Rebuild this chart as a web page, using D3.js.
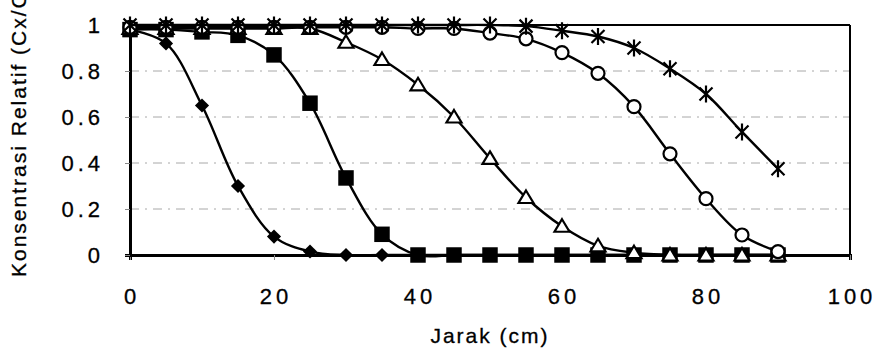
<!DOCTYPE html>
<meta charset="utf-8">
<style>
body { margin: 0; background: #fff; }
text { font-family: Arial, "Liberation Sans", sans-serif; fill: #000; stroke: #000; stroke-width: 0.3; }
.tick-label { font-size: 22px; letter-spacing: 4px; }
.axis-title { font-size: 21px; letter-spacing: 2px; }
.grid { stroke: #a8a8a8; stroke-width: 1; stroke-dasharray: 9,6,2,6; }
.series { fill: none; stroke: #000; stroke-width: 2.4; }
</style>
<body>
<script src="https://cdn.jsdelivr.net/npm/d3@7"></script>
<script>

// distance (cm) sampled every 5 cm
var jarak = [0, 5, 10, 15, 20, 25, 30, 35, 40, 45, 50, 55, 60, 65, 70, 75, 80, 85, 90];

// relative concentration Cx/Co, one array per curve
var belahKetupat = [0.98, 0.92, 0.65, 0.30, 0.08, 0.015, 0, 0, 0, 0, 0, 0, 0, 0, 0, 0, 0, 0, 0];
var kotak        = [0.98, 0.98, 0.97, 0.955, 0.87, 0.66, 0.335, 0.09, 0, 0, 0, 0, 0, 0, 0, 0, 0, 0, 0];
var segitiga     = [0.985, 0.985, 0.985, 0.985, 0.985, 0.985, 0.925, 0.85, 0.74, 0.60, 0.42, 0.25, 0.125, 0.04, 0.01, 0, 0, 0, 0];
var lingkaran    = [0.99, 0.99, 0.99, 0.99, 0.99, 0.99, 0.99, 0.99, 0.985, 0.985, 0.965, 0.94, 0.88, 0.79, 0.645, 0.44, 0.245, 0.087, 0.015];
var bintang      = [1, 1, 1, 1, 1, 1, 1, 1, 1, 1, 1, 0.995, 0.975, 0.95, 0.90, 0.81, 0.70, 0.535, 0.375];

var xTicks = [0, 20, 40, 60, 80, 100];
var yTicks = [0, 0.2, 0.4, 0.6, 0.8, 1];
var yTickLabels = ["0", "0.2", "0.4", "0.6", "0.8", "1"];

var width = 882, height = 354;
var plotL = 130, plotR = 850, plotT = 25, plotB = 255;

var x = d3.scaleLinear().domain([0, 100]).range([plotL, plotR]);
var y = d3.scaleLinear().domain([0, 1]).range([plotB, plotT]);

var svg = d3.select("body").append("svg")
    .attr("width", width)
    .attr("height", height);

// dashed gridlines
svg.append("g").selectAll("line")
    .data(yTicks.slice(1, -1))
  .enter().append("line")
    .attr("class", "grid")
    .attr("x1", plotL).attr("x2", plotR)
    .attr("y1", function(d) { return y(d); })
    .attr("y2", function(d) { return y(d); });

// frame: top and right thinner, left and bottom thick
svg.append("line").attr("x1", plotL).attr("x2", plotR).attr("y1", plotT).attr("y2", plotT)
    .attr("stroke", "#000").attr("stroke-width", 2);
svg.append("line").attr("x1", plotR).attr("x2", plotR).attr("y1", plotT).attr("y2", plotB)
    .attr("stroke", "#000").attr("stroke-width", 2);

var xAxis = svg.append("g")
    .attr("transform", "translate(0," + plotB + ")")
    .call(d3.axisBottom(x).tickValues(xTicks).tickSize(5).tickFormat(""));
var yAxis = svg.append("g")
    .attr("transform", "translate(" + plotL + ",0)")
    .call(d3.axisLeft(y).tickValues(yTicks).tickSize(5).tickFormat(""));
[xAxis, yAxis].forEach(function(a) {
  a.select(".domain").attr("stroke", "#000").attr("stroke-width", 3);
  a.selectAll(".tick line").attr("stroke", "#888").attr("stroke-width", 1);
});

// tick labels
svg.append("g").selectAll("text")
    .data(xTicks)
  .enter().append("text")
    .attr("class", "tick-label")
    .attr("x", function(d) { return x(d) + 2; })
    .attr("y", 304)
    .attr("text-anchor", "middle")
    .text(function(d) { return d; });

svg.append("g").selectAll("text")
    .data(yTicks)
  .enter().append("text")
    .attr("class", "tick-label")
    .attr("x", 104)
    .attr("y", function(d) { return y(d) + 8; })
    .attr("text-anchor", "end")
    .text(function(d, i) { return yTickLabels[i]; });

svg.append("text")
    .attr("class", "axis-title")
    .attr("x", 490).attr("y", 343)
    .attr("text-anchor", "middle")
    .text("Jarak (cm)");

svg.append("text")
    .attr("class", "axis-title")
    .attr("transform", "translate(26,277) rotate(-90)")
    .attr("text-anchor", "start")
    .text("Konsentrasi Relatif (Cx/Co)");

// series
var line = d3.line()
    .x(function(d) { return x(d[0]); })
    .y(function(d) { return y(d[1]); })
    .curve(d3.curveCatmullRom.alpha(0.5));

function pts(vals) { return jarak.map(function(j, i) { return [j, vals[i]]; }); }

var sq = d3.symbol().type(d3.symbolSquare);
var series = [
  {vals: belahKetupat, mark: function(g) {
      g.append("path").attr("d", sq.size(100)()).attr("transform", "rotate(45)").attr("fill", "#000"); }},
  {vals: kotak, mark: function(g) {
      g.append("path").attr("d", sq.size(240)()).attr("fill", "#000"); }},
  {vals: segitiga, mark: function(g) {
      g.append("path").attr("d", "M0,-7L7.5,5.5L-7.5,5.5Z").attr("fill", "#fff")
        .attr("stroke", "#000").attr("stroke-width", 2.2); }},
  {vals: lingkaran, mark: function(g) {
      g.append("circle").attr("r", 6.5).attr("fill", "#fff")
        .attr("stroke", "#000").attr("stroke-width", 2.2); }},
  {vals: bintang, mark: function(g) {
      g.append("path").attr("d", "M-6.5,-6.5L6.5,6.5M-6.5,6.5L6.5,-6.5M0,-8.5L0,8.5")
        .attr("stroke", "#000").attr("stroke-width", 2.2); }}
];

series.forEach(function(s) {
  var data = pts(s.vals);
  svg.append("path").attr("class", "series").attr("d", line(data));
  svg.append("g").selectAll("g")
      .data(data)
    .enter().append("g")
      .attr("transform", function(d) { return "translate(" + x(d[0]) + "," + y(d[1]) + ")"; })
      .each(function() { s.mark(d3.select(this)); });
});

</script>
</body>
